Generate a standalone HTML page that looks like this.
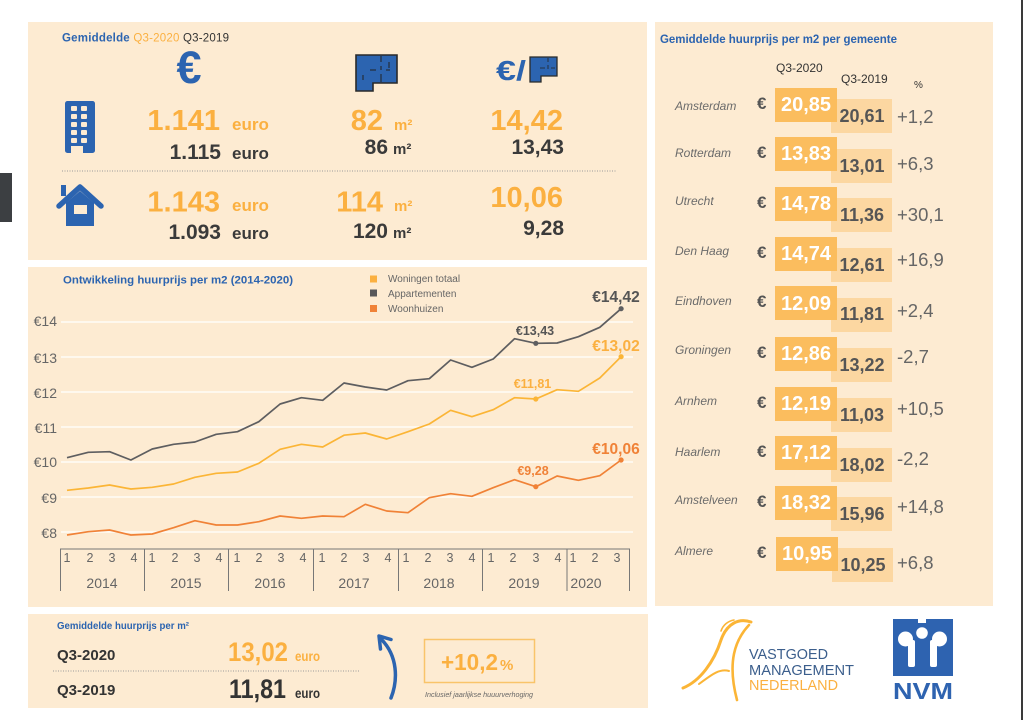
<!DOCTYPE html>
<html><head><meta charset="utf-8"><style>
html,body{margin:0;padding:0;background:#fff;width:1024px;height:720px;overflow:hidden}
svg{display:block}
text{font-family:"Liberation Sans",Arial,sans-serif}
</style></head><body>
<svg width="1024" height="720" viewBox="0 0 1024 720" xmlns="http://www.w3.org/2000/svg">
<rect x="0" y="0" width="1024" height="720" fill="#fff"/>
<!-- side artifacts -->
<rect x="0" y="173" width="12" height="49" fill="#3c3f42"/>
<rect x="1021" y="0" width="2" height="720" fill="#3a3a3a"/>

<!-- panels -->
<rect x="28" y="22" width="619" height="238" fill="#fdebd2"/>
<rect x="28" y="267" width="619" height="340" fill="#fdebd2"/>
<rect x="28" y="614" width="620" height="94" fill="#fdebd2"/>
<rect x="655" y="22" width="338" height="584" fill="#fdebd2"/>

<!-- ===== TOP PANEL ===== -->
<text x="62" y="41.5" font-size="11.5" font-weight="bold" fill="#2c64b0" textLength="167" lengthAdjust="spacing">Gemiddelde <tspan fill="#fbb040" font-weight="normal">Q3-2020</tspan> <tspan fill="#333" font-weight="normal">Q3-2019</tspan></text>

<!-- euro icon -->
<text x="189" y="83" text-anchor="middle" font-size="45" font-weight="bold" fill="#2c64b0">€</text>
<!-- floorplan icon -->
<path d="M356 55 H397 V83 H373 V91 H356 Z" fill="#2c64b0" stroke="#2a2a2a" stroke-width="1.6"/>
<path d="M381 56 V62 M381 66 V70 M370 70 H376 M386 70 H390 M381 74 V82 M389 62 V68 M363 75 V80" stroke="#222" stroke-width="1" fill="none"/>
<!-- €/ floorplan -->
<text x="496" y="80" font-size="28" font-weight="bold" fill="#2c64b0" textLength="30" lengthAdjust="spacingAndGlyphs">€/</text>
<path d="M530 57 H557 V76 H541 V82 H530 Z" fill="#2c64b0" stroke="#2a2a2a" stroke-width="1.3"/>
<path d="M548 58 V62 M548 65 V69 M540 68 H545 M551 68 H555" stroke="#222" stroke-width="0.8" fill="none"/>

<!-- building icon -->
<rect x="65" y="101" width="30" height="52" rx="2.5" fill="#2c64b0"/>
<g fill="#fdebd2">
<rect x="71" y="106" width="6" height="5" rx="1"/><rect x="81" y="106" width="6" height="5" rx="1"/>
<rect x="71" y="114" width="6" height="5" rx="1"/><rect x="81" y="114" width="6" height="5" rx="1"/>
<rect x="71" y="122" width="6" height="5" rx="1"/><rect x="81" y="122" width="6" height="5" rx="1"/>
<rect x="71" y="130" width="6" height="5" rx="1"/><rect x="81" y="130" width="6" height="5" rx="1"/>
<rect x="71" y="138" width="6" height="5" rx="1"/><rect x="81" y="138" width="6" height="5" rx="1"/>
<rect x="71" y="146" width="12" height="7"/>
</g>
<!-- house icon -->
<rect x="61" y="185" width="5" height="11" fill="#2c64b0"/>
<path d="M59 206 L80 187 L101 206" fill="none" stroke="#2c64b0" stroke-width="5.5" stroke-linecap="round" stroke-linejoin="round"/>
<path d="M66 203 L80 191 L94 203 V226 H66 Z" fill="#2c64b0"/>
<rect x="74" y="205" width="13" height="9" fill="#fdebd2"/>

<!-- column 1 -->
<text x="220" y="130" text-anchor="end" font-size="29" font-weight="bold" fill="#fbb040">1.141</text>
<text x="232" y="130" font-size="17" font-weight="bold" fill="#fbb040">euro</text>
<text x="221" y="159" text-anchor="end" font-size="21" font-weight="bold" fill="#3a3a3a">1.115</text>
<text x="232" y="159" font-size="17" font-weight="bold" fill="#3a3a3a">euro</text>
<text x="220" y="211.5" text-anchor="end" font-size="29" font-weight="bold" fill="#fbb040">1.143</text>
<text x="232" y="211" font-size="17" font-weight="bold" fill="#fbb040">euro</text>
<text x="221" y="239" text-anchor="end" font-size="21" font-weight="bold" fill="#3a3a3a">1.093</text>
<text x="232" y="239" font-size="17" font-weight="bold" fill="#3a3a3a">euro</text>

<!-- column 2 -->
<text x="383" y="130" text-anchor="end" font-size="29" font-weight="bold" fill="#fbb040">82</text>
<text x="394" y="130" font-size="15" font-weight="bold" fill="#fbb040">m²</text>
<text x="388" y="154" text-anchor="end" font-size="21" font-weight="bold" fill="#3a3a3a">86</text>
<text x="393" y="154" font-size="15" font-weight="bold" fill="#3a3a3a">m²</text>
<text x="383" y="211.5" text-anchor="end" font-size="29" font-weight="bold" fill="#fbb040">114</text>
<text x="394" y="211" font-size="15" font-weight="bold" fill="#fbb040">m²</text>
<text x="388" y="238" text-anchor="end" font-size="21" font-weight="bold" fill="#3a3a3a">120</text>
<text x="393" y="238" font-size="15" font-weight="bold" fill="#3a3a3a">m²</text>

<!-- column 3 -->
<text x="563" y="130" text-anchor="end" font-size="29" font-weight="bold" fill="#fbb040">14,42</text>
<text x="564" y="154" text-anchor="end" font-size="21" font-weight="bold" fill="#3a3a3a">13,43</text>
<text x="563" y="207" text-anchor="end" font-size="29" font-weight="bold" fill="#fbb040">10,06</text>
<text x="564" y="235" text-anchor="end" font-size="21" font-weight="bold" fill="#3a3a3a">9,28</text>

<line x1="62" y1="171" x2="617" y2="171" stroke="#9a9a9a" stroke-width="1" stroke-dasharray="1 1.5"/>

<!-- ===== CHART PANEL ===== -->
<text x="63" y="283.5" font-size="11" font-weight="bold" fill="#2c64b0" textLength="230" lengthAdjust="spacingAndGlyphs">Ontwikkeling huurprijs per m2 (2014-2020)</text>
<!-- legend -->
<rect x="370" y="275.5" width="7" height="7" fill="#fbb040"/>
<rect x="370" y="289.5" width="7" height="7" fill="#58585a"/>
<rect x="370" y="305" width="7" height="7" fill="#f08237"/>
<text x="388" y="282" font-size="10" fill="#666">Woningen totaal</text>
<text x="388" y="297" font-size="10" fill="#666">Appartementen</text>
<text x="388" y="312" font-size="10" fill="#666">Woonhuizen</text>

<!-- gridlines -->
<g stroke="#ffffff" stroke-width="1.3">
<line x1="61" y1="322" x2="633" y2="322"/>
<line x1="61" y1="357" x2="633" y2="357"/>
<line x1="61" y1="392" x2="633" y2="392"/>
<line x1="61" y1="427" x2="633" y2="427"/>
<line x1="61" y1="462" x2="633" y2="462"/>
<line x1="61" y1="497" x2="633" y2="497"/>
<line x1="61" y1="532" x2="633" y2="532"/>
</g>
<g font-size="14" fill="#666" text-anchor="end">
<text x="57" y="326">€14</text>
<text x="57" y="363">€13</text>
<text x="57" y="398">€12</text>
<text x="57" y="433">€11</text>
<text x="57" y="467">€10</text>
<text x="57" y="503">€9</text>
<text x="57" y="538">€8</text>
</g>

<!-- axis -->
<line x1="60" y1="549" x2="630" y2="549" stroke="#777" stroke-width="1"/>
<g stroke="#777" stroke-width="1">
<line x1="60.5" y1="549" x2="60.5" y2="591"/>
<line x1="144.5" y1="549" x2="144.5" y2="591"/>
<line x1="228.5" y1="549" x2="228.5" y2="591"/>
<line x1="313.5" y1="549" x2="313.5" y2="591"/>
<line x1="398.5" y1="549" x2="398.5" y2="591"/>
<line x1="482.5" y1="549" x2="482.5" y2="591"/>
<line x1="567" y1="549" x2="567" y2="591"/>
<line x1="629.5" y1="549" x2="629.5" y2="591"/>
</g>
<g font-size="12.5" fill="#666" text-anchor="middle">
<text x="67" y="562">1</text><text x="90" y="562">2</text><text x="112" y="562">3</text><text x="134" y="562">4</text>
<text x="152" y="562">1</text><text x="175" y="562">2</text><text x="197" y="562">3</text><text x="219" y="562">4</text>
<text x="237" y="562">1</text><text x="259" y="562">2</text><text x="281" y="562">3</text><text x="303" y="562">4</text>
<text x="322" y="562">1</text><text x="344" y="562">2</text><text x="366" y="562">3</text><text x="388" y="562">4</text>
<text x="406" y="562">1</text><text x="428" y="562">2</text><text x="450" y="562">3</text><text x="472" y="562">4</text>
<text x="491" y="562">1</text><text x="513" y="562">2</text><text x="536" y="562">3</text><text x="558" y="562">4</text>
<text x="573" y="562">1</text><text x="595" y="562">2</text><text x="617" y="562">3</text>
</g>
<g font-size="14" fill="#666" text-anchor="middle">
<text x="102" y="588">2014</text>
<text x="186" y="588">2015</text>
<text x="270" y="588">2016</text>
<text x="354" y="588">2017</text>
<text x="439" y="588">2018</text>
<text x="524" y="588">2019</text>
<text x="586" y="588">2020</text>
</g>

<!-- series -->
<polyline fill="none" stroke="#5e5e60" stroke-width="1.7" stroke-linejoin="round" points="67,457.7 88.3,452.3 109.6,451.7 130.9,460 152.2,449 173.6,444.3 194.9,442 216.2,434.3 237.5,431.7 258.8,421.7 280.1,404 301.4,397.7 322.7,400.3 344,383 365.3,387 386.7,390 408,380.7 429.3,378.7 450.6,360 471.9,367.3 493.2,359 514.5,338.7 535.8,343.3 557.1,343 578.4,336.7 599.8,327.3 621.1,308.7"/>
<polyline fill="none" stroke="#fbb536" stroke-width="1.7" stroke-linejoin="round" points="67,490.3 88.3,488 109.6,485 130.9,489 152.2,487.3 173.6,484 194.9,477.3 216.2,473.3 237.5,472 258.8,463.3 280.1,449.3 301.4,444.3 322.7,447 344,435.2 365.3,433 386.7,439 408,431.7 429.3,424 450.6,410.3 471.9,416.7 493.2,409.7 514.5,397.7 535.8,399 557.1,389.7 578.4,391.3 599.8,378 621.1,356.7"/>
<polyline fill="none" stroke="#f08237" stroke-width="1.7" stroke-linejoin="round" points="67,535 88.3,531.7 109.6,530 130.9,535 152.2,534 173.6,527.7 194.9,520.7 216.2,525 237.5,525 258.8,521.7 280.1,516 301.4,518.3 322.7,516 344,516.7 365.3,504.3 386.7,511 408,512.7 429.3,497.7 450.6,493.7 471.9,496.3 493.2,487.7 514.5,479.7 535.8,486.7 557.1,476 578.4,480.3 599.8,475.7 621.1,460"/>
<circle cx="535.8" cy="343.3" r="2.6" fill="#5e5e60"/>
<circle cx="621.1" cy="308.7" r="2.6" fill="#5e5e60"/>
<circle cx="535.8" cy="399" r="2.6" fill="#fbb536"/>
<circle cx="621.1" cy="356.7" r="2.6" fill="#fbb536"/>
<circle cx="535.8" cy="486.7" r="2.6" fill="#f08237"/>
<circle cx="621.1" cy="460" r="2.6" fill="#f08237"/>

<text x="535" y="335" text-anchor="middle" font-size="12.5" font-weight="bold" fill="#555">€13,43</text>
<text x="616" y="302" text-anchor="middle" font-size="15.5" font-weight="bold" fill="#555">€14,42</text>
<text x="616" y="351" text-anchor="middle" font-size="15.5" font-weight="bold" fill="#fbb040">€13,02</text>
<text x="532.5" y="388" text-anchor="middle" font-size="12.5" font-weight="bold" fill="#fbb040">€11,81</text>
<text x="616" y="454" text-anchor="middle" font-size="15.5" font-weight="bold" fill="#f08237">€10,06</text>
<text x="533" y="475" text-anchor="middle" font-size="12.5" font-weight="bold" fill="#f08237">€9,28</text>

<!-- ===== RIGHT PANEL ===== -->
<text x="660" y="43" font-size="11.5" font-weight="bold" fill="#2c64b0" textLength="237" lengthAdjust="spacingAndGlyphs">Gemiddelde huurprijs per m2 per gemeente</text>
<text x="776" y="72" font-size="12" fill="#333">Q3-2020</text>
<text x="841" y="83" font-size="12" fill="#333">Q3-2019</text>
<text x="914" y="88" font-size="10" fill="#333">%</text>

<g id="rows">
<g fill="#fbbd5e">
<rect x="775" y="88" width="62" height="34"/>
<rect x="775" y="137" width="62" height="34"/>
<rect x="775" y="187" width="62" height="34"/>
<rect x="775" y="237" width="62" height="34"/>
<rect x="775" y="286" width="62" height="34"/>
<rect x="775" y="337" width="62" height="34"/>
<rect x="775" y="387" width="62" height="34"/>
<rect x="775" y="436" width="62" height="34"/>
<rect x="775" y="486" width="62" height="34"/>
<rect x="776" y="537" width="62" height="34"/>
</g>
<g fill="#fbbd5e" fill-opacity="0.42">
<rect x="831" y="99" width="61" height="34"/>
<rect x="831" y="149" width="61" height="34"/>
<rect x="831" y="198" width="61" height="34"/>
<rect x="831" y="248" width="61" height="34"/>
<rect x="831" y="298" width="61" height="34"/>
<rect x="831" y="348" width="61" height="34"/>
<rect x="831" y="398" width="61" height="34"/>
<rect x="831" y="448" width="61" height="34"/>
<rect x="831" y="497" width="61" height="34"/>
<rect x="832" y="548" width="61" height="34"/>
</g>
<g font-size="12" font-style="italic" fill="#6b6b6b">
<text x="675" y="110">Amsterdam</text>
<text x="675" y="157">Rotterdam</text>
<text x="675" y="205">Utrecht</text>
<text x="675" y="255">Den Haag</text>
<text x="675" y="305">Eindhoven</text>
<text x="675" y="354">Groningen</text>
<text x="675" y="405">Arnhem</text>
<text x="675" y="456">Haarlem</text>
<text x="675" y="504">Amstelveen</text>
<text x="675" y="555">Almere</text>
</g>
<g font-size="17" font-weight="bold" fill="#555">
<text x="757" y="109">€</text>
<text x="757" y="158">€</text>
<text x="757" y="208">€</text>
<text x="757" y="258">€</text>
<text x="757" y="307">€</text>
<text x="757" y="358">€</text>
<text x="757" y="408">€</text>
<text x="757" y="457">€</text>
<text x="757" y="507">€</text>
<text x="757" y="558">€</text>
</g>
<g font-size="20" font-weight="bold" fill="#fff" text-anchor="middle">
<text x="806" y="111">20,85</text>
<text x="806" y="160">13,83</text>
<text x="806" y="210">14,78</text>
<text x="806" y="260">14,74</text>
<text x="806" y="310">12,09</text>
<text x="806" y="360">12,86</text>
<text x="806" y="410">12,19</text>
<text x="806" y="459">17,12</text>
<text x="806" y="509">18,32</text>
<text x="807" y="560">10,95</text>
</g>
<g font-size="18" font-weight="bold" fill="#555" text-anchor="middle">
<text x="862" y="122">20,61</text>
<text x="862" y="172">13,01</text>
<text x="862" y="221">11,36</text>
<text x="862" y="271">12,61</text>
<text x="862" y="320">11,81</text>
<text x="862" y="371">13,22</text>
<text x="862" y="421">11,03</text>
<text x="862" y="471">18,02</text>
<text x="862" y="520">15,96</text>
<text x="863" y="571">10,25</text>
</g>
<g font-size="18.5" fill="#666">
<text x="897" y="123">+1,2</text>
<text x="897" y="170">+6,3</text>
<text x="897" y="221">+30,1</text>
<text x="897" y="266">+16,9</text>
<text x="897" y="317">+2,4</text>
<text x="897" y="363">-2,7</text>
<text x="897" y="415">+10,5</text>
<text x="897" y="465">-2,2</text>
<text x="897" y="513">+14,8</text>
<text x="897" y="569">+6,8</text>
</g>
</g>

<!-- ===== BOTTOM PANEL ===== -->
<text x="57" y="629" font-size="10.5" font-weight="bold" fill="#2c64b0" textLength="132" lengthAdjust="spacingAndGlyphs">Gemiddelde huurprijs per m²</text>
<text x="57" y="660" font-size="15" font-weight="bold" fill="#333">Q3-2020</text>
<text x="57" y="695" font-size="15" font-weight="bold" fill="#333">Q3-2019</text>
<text x="228" y="661" font-size="27" font-weight="bold" fill="#fbb040" textLength="60" lengthAdjust="spacingAndGlyphs">13,02</text>
<text x="295" y="661" font-size="14" font-weight="bold" fill="#fbb040" textLength="25" lengthAdjust="spacingAndGlyphs">euro</text>
<text x="229" y="698" font-size="27" font-weight="bold" fill="#333" textLength="57" lengthAdjust="spacingAndGlyphs">11,81</text>
<text x="295" y="698" font-size="14" font-weight="bold" fill="#333" textLength="25" lengthAdjust="spacingAndGlyphs">euro</text>
<line x1="53" y1="671" x2="359" y2="671" stroke="#9a9a9a" stroke-width="1" stroke-dasharray="1 1.5"/>

<!-- arrow -->
<path d="M391 698 C 398 680, 398 656, 381 639" fill="none" stroke="#2c64b0" stroke-width="3.5" stroke-linecap="round"/>
<path d="M380.5 649 L379 636 L391 639.5" fill="none" stroke="#2c64b0" stroke-width="3.5" stroke-linecap="round" stroke-linejoin="round"/>

<!-- pct box -->
<rect x="424.5" y="639.5" width="110" height="43" fill="none" stroke="#f9c46a" stroke-width="1.5"/>
<text x="441" y="670" font-size="23" font-weight="bold" fill="#fbb040" textLength="57" lengthAdjust="spacingAndGlyphs">+10,2</text>
<text x="500" y="670" font-size="15" font-weight="bold" fill="#fbb040">%</text>
<text x="425" y="697" font-size="7.5" font-style="italic" fill="#666" textLength="108" lengthAdjust="spacingAndGlyphs">Inclusief jaarlijkse huuurverhoging</text>

<!-- ===== LOGOS ===== -->
<g fill="none" stroke="#fbb536" stroke-linecap="round">
<path d="M683 688 C 700 681, 714 662, 721 640 C 727 623, 739 618, 751 622" stroke-width="3"/>
<path d="M749 625 C 735 640, 727 662, 737 700" stroke-width="2.6"/>
<path d="M699 684 C 710 676, 719 668, 729 671" stroke-width="2"/>
<path d="M721 631 C 723 625, 728 621, 734 620" stroke-width="1.6"/>
</g>
<text x="749" y="659" font-size="14.5" fill="#3b5e8c" textLength="79" lengthAdjust="spacingAndGlyphs">VASTGOED</text>
<text x="749" y="675" font-size="14.5" fill="#3b5e8c" textLength="105" lengthAdjust="spacingAndGlyphs">MANAGEMENT</text>
<text x="749" y="690" font-size="14.5" fill="#fbb040" textLength="89" lengthAdjust="spacingAndGlyphs">NEDERLAND</text>

<rect x="893" y="619" width="60" height="57" fill="#2e63b0"/>
<g fill="#fff">
<rect x="918" y="619" width="8" height="4"/>
<circle cx="922" cy="633" r="5.8"/>
<circle cx="905.5" cy="639" r="7.5"/>
<circle cx="939.5" cy="639" r="7.5"/>
<rect x="908" y="640" width="7" height="27" rx="2"/>
<rect x="930" y="640" width="7" height="27" rx="2"/>
</g>
<text x="893" y="699" font-size="23" font-weight="bold" fill="#2e63b0" textLength="60" lengthAdjust="spacingAndGlyphs">NVM</text>
</svg>
</body></html>
